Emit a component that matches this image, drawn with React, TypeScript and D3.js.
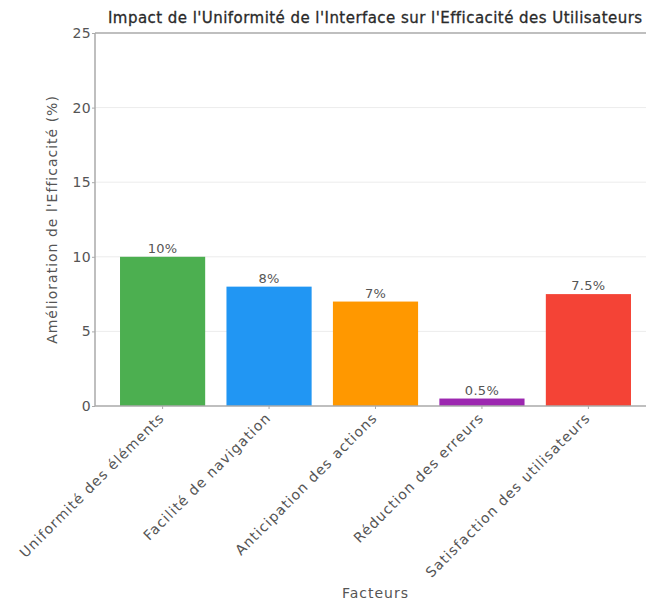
import React, { useEffect, useRef } from "react";
import * as d3 from "d3";

const categories = [
  "Uniformité des éléments",
  "Facilité de navigation",
  "Anticipation des actions",
  "Réduction des erreurs",
  "Satisfaction des utilisateurs",
];
const values = [10, 8, 7, 0.5, 7.5];
const valueLabels = ["10%", "8%", "7%", "0.5%", "7.5%"];
const barColors = ["#4CAF50", "#2196F3", "#FF9800", "#9C27B0", "#F44336"];
const yTicks = [0, 5, 10, 15, 20, 25];

const title = "Impact de l'Uniformité de l'Interface sur l'Efficacité des Utilisateurs";
const xTitle = "Facteurs";
const yTitle = "Amélioration de l'Efficacité (%)";

const W = 646;
const H = 600;
const FONT = "'DejaVu Sans', sans-serif";

export default function App() {
  const ref = useRef<SVGSVGElement>(null);

  useEffect(() => {
    const svg = d3.select(ref.current);
    svg.selectAll("*").remove();

    const left = 95;
    const right = 656;
    const top = 33;
    const bottom = 406;

    const x = d3
      .scaleBand<string>()
      .domain(categories)
      .range([left, right])
      .paddingInner(0.2)
      .paddingOuter(0.235);
    const y = d3.scaleLinear().domain([0, 25]).range([bottom, top]);

    // light horizontal grid
    svg
      .append("g")
      .selectAll("line")
      .data(yTicks.filter((t) => t > 0 && t < 25))
      .join("line")
      .attr("x1", left)
      .attr("x2", right)
      .attr("y1", (d) => y(d))
      .attr("y2", (d) => y(d))
      .attr("stroke", "#ececec")
      .attr("stroke-width", 1);

    // bars
    svg
      .append("g")
      .selectAll("rect")
      .data(values)
      .join("rect")
      .attr("x", (_, i) => x(categories[i])!)
      .attr("width", x.bandwidth())
      .attr("y", (d) => y(d))
      .attr("height", (d) => y(0) - y(d))
      .attr("fill", (_, i) => barColors[i]);

    // value labels above the bars
    svg
      .append("g")
      .selectAll("text")
      .data(values)
      .join("text")
      .attr("x", (_, i) => x(categories[i])! + x.bandwidth() / 2)
      .attr("y", (d) => y(d) - 4)
      .attr("text-anchor", "middle")
      .attr("font-family", FONT)
      .attr("font-size", 13)
      .attr("letter-spacing", 0.3)
      .attr("fill", "#555")
      .text((_, i) => valueLabels[i]);

    // plot frame
    const frame = svg.append("g").attr("stroke", "#aaa").attr("stroke-width", 1.5).attr("fill", "none");
    frame.append("line").attr("x1", left).attr("x2", left).attr("y1", top).attr("y2", bottom);
    frame.append("line").attr("x1", left).attr("x2", right).attr("y1", top).attr("y2", top);
    frame.append("line").attr("x1", left).attr("x2", right).attr("y1", bottom).attr("y2", bottom);
    frame.append("line").attr("x1", right).attr("x2", right).attr("y1", top).attr("y2", bottom);

    // y axis
    const yAxis = svg
      .append("g")
      .attr("transform", `translate(${left},0)`)
      .call(d3.axisLeft(y).tickValues(yTicks).tickSize(3).tickPadding(1).tickFormat(d3.format("d")));
    yAxis.select(".domain").remove();
    yAxis.selectAll("line").attr("stroke", "#aaa");
    yAxis
      .selectAll("text")
      .attr("font-family", FONT)
      .attr("font-size", 14)
      .attr("letter-spacing", 0.3)
      .attr("fill", "#555");

    // x axis with rotated category labels
    const xAxis = svg
      .append("g")
      .attr("transform", `translate(0,${bottom})`)
      .call(d3.axisBottom(x).tickSize(3).tickPadding(3));
    xAxis.select(".domain").remove();
    xAxis.selectAll("line").attr("stroke", "#aaa");
    xAxis
      .selectAll("text")
      .attr("font-family", FONT)
      .attr("font-size", 14)
      .attr("letter-spacing", 1.1)
      .attr("fill", "#555")
      .attr("text-anchor", "end")
      .attr("dy", "0.35em")
      .attr("transform", "translate(-5,5) rotate(-45)");

    // titles
    svg
      .append("text")
      .attr("x", 108)
      .attr("y", 23)
      .attr("font-family", FONT)
      .attr("font-size", 15)
      .attr("letter-spacing", 0.45)
      .attr("fill", "#2a2a2a")
      .attr("stroke", "#2a2a2a")
      .attr("stroke-width", 0.3)
      .text(title);

    svg
      .append("text")
      .attr("x", (left + right) / 2)
      .attr("y", 598)
      .attr("text-anchor", "middle")
      .attr("font-family", FONT)
      .attr("font-size", 14)
      .attr("letter-spacing", 1)
      .attr("fill", "#555")
      .text(xTitle);

    svg
      .append("text")
      .attr("transform", `translate(57,${(top + bottom) / 2}) rotate(-90)`)
      .attr("text-anchor", "middle")
      .attr("font-family", FONT)
      .attr("font-size", 14)
      .attr("letter-spacing", 1)
      .attr("fill", "#555")
      .text(yTitle);
  }, []);

  return (
    <svg
      ref={ref}
      width={W}
      height={H}
      style={{ position: "absolute", left: 0, top: 0, background: "#fff", overflow: "hidden" }}
    />
  );
}
